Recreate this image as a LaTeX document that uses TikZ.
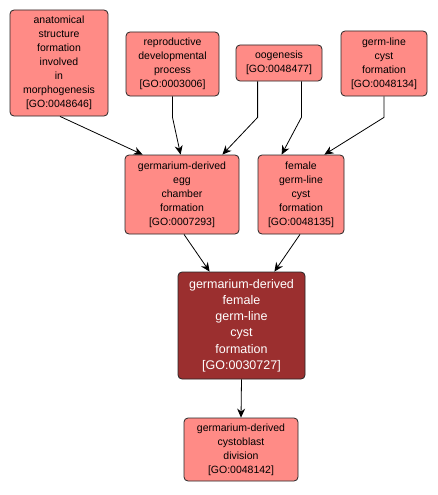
\documentclass[tikz,border=0pt]{standalone}
\usepackage{fontspec}
\setmainfont{Liberation Sans}
\usetikzlibrary{arrows.meta,calc}
\definecolor{lightgo}{HTML}{FF8B86}
\definecolor{darkgo}{HTML}{9B2F2F}
\tikzset{
  gobox/.style={draw=black!85, line width=0.8pt, rounded corners=4pt, fill=lightgo, inner sep=0pt, align=center, font=\fontsize{10.5}{14}\selectfont},
  mainbox/.style={gobox, fill=darkgo, text=white, font=\fontsize{12.5}{16.2}\selectfont},
  edge/.style={draw=black, line width=0.8pt, -{Stealth[length=9pt,width=8pt]}}
}
\begin{document}
\begin{tikzpicture}[x=1pt,y=-1pt]
\useasboundingbox[fill=white] (0,0) rectangle (438,495);
\node[gobox, minimum width=98pt, minimum height=106pt, text width=96pt] (n1) at (59,63) {anatomical\\structure\\formation\\involved\\in\\morphogenesis\\[0pt][GO:0048646]};
\node[gobox, minimum width=93pt, minimum height=64pt, text width=91pt] (n2) at (172.5,64) {reproductive\\developmental\\process\\[0pt][GO:0003006]};
\node[gobox, minimum width=86pt, minimum height=36pt, text width=84pt] (n3) at (279,63) {oogenesis\\[0pt][GO:0048477]};
\node[gobox, minimum width=86pt, minimum height=65pt, text width=84pt] (n4) at (384,63.5) {germ-line\\cyst\\formation\\[0pt][GO:0048134]};
\node[gobox, minimum width=114pt, minimum height=79pt, text width=112pt] (n5) at (182,194.5) {germarium-derived\\egg\\chamber\\formation\\[0pt][GO:0007293]};
\node[gobox, minimum width=86pt, minimum height=79pt, text width=84pt] (n6) at (301,194.5) {female\\germ-line\\cyst\\formation\\[0pt][GO:0048135]};
\node[mainbox, minimum width=127pt, minimum height=107pt, text width=125pt] (n7) at (241.5,325.5) {germarium-derived\\female\\germ-line\\cyst\\formation\\[0pt][GO:0030727]};
\node[gobox, minimum width=114pt, minimum height=63pt, text width=112pt] (n8) at (241,449.5) {germarium-derived\\cystoblast\\division\\[0pt][GO:0048142]};
\draw[edge] ($(n1.south)+(1,0)$) -- ($(n5.north west)+(18,0)$);
\draw[edge] (n2.south) -- ++(0,21) -- ($(n5.north west)+(56,0)$);
\draw[edge] ($(n3.south west)+(22,0)$) -- ++(0,36) -- ($(n5.north east)+(-17,0)$);
\draw[edge] ($(n3.south east)+(-21,0)$) -- ++(0,36) -- ($(n6.north west)+(24,0)$);
\draw[edge] (n4.south) -- ++(0,21) -- ($(n6.north east)+(-20,0)$);
\draw[edge] ($(n5.south)+(2,0)$) -- ($(n7.north west)+(32,0)$);
\draw[edge] ($(n6.south)+(-1,0)$) -- ($(n7.north east)+(-31,0)$);
\draw[edge] (n7.south) -- (n8.north);
\end{tikzpicture}
\end{document}
